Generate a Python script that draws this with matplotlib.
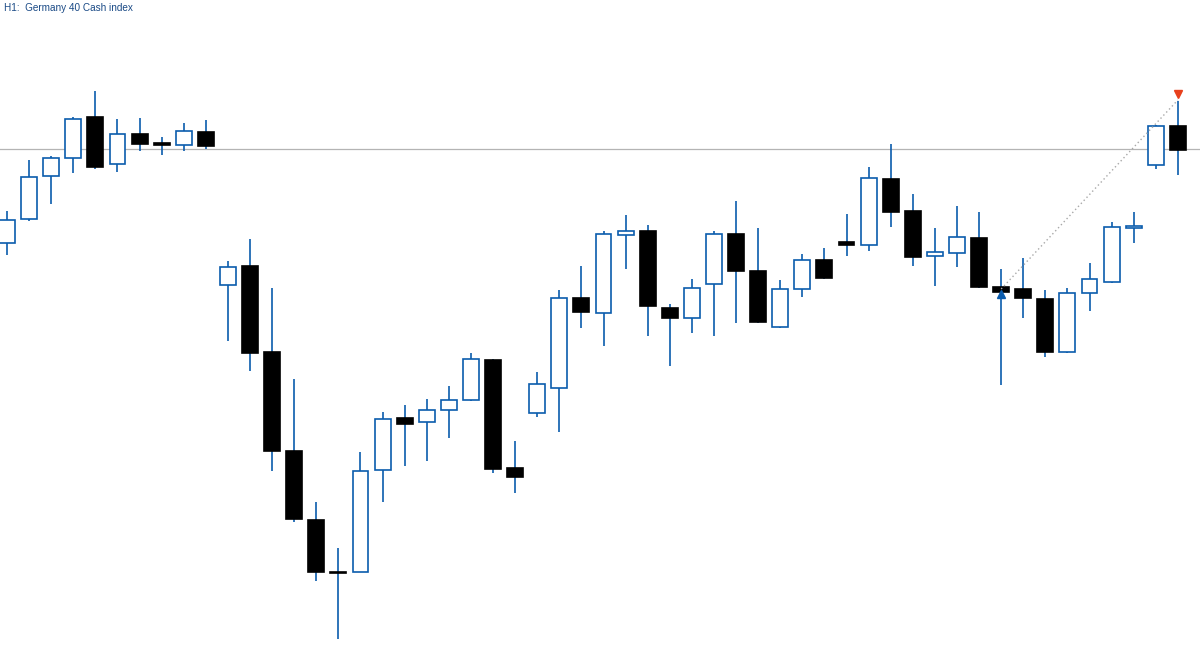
import numpy as np
import matplotlib.pyplot as plt

# H1 candles, oldest first
opens = [15703, 15715, 15736.5, 15745.5, 15766, 15742.5, 15757.5, 15753, 15752, 15758.5,
         15682, 15691.5, 15648.5, 15599, 15564.5, 15538.5, 15538.5, 15589.5, 15615.5, 15613.5,
         15619.5, 15624.5, 15644.5, 15590.5, 15618, 15630.5, 15675.5, 15668, 15707, 15709,
         15670.5, 15665.5, 15682.5, 15707.5, 15689, 15661, 15680, 15694.5, 15703.5, 15702,
         15735, 15719, 15696.5, 15698, 15705.5, 15681, 15680, 15675, 15648.5, 15678,
         15683.5, 15710.5, 15742, 15761.5]
highs = [15719, 15744.5, 15746.5, 15766, 15779, 15765, 15765.5, 15756, 15763, 15764.5,
         15694, 15705, 15680.5, 15635, 15573.5, 15550.5, 15598.5, 15618.5, 15622, 15625,
         15631.5, 15648, 15645, 15604, 15638.5, 15679.5, 15691.5, 15709, 15717, 15712,
         15672.5, 15685, 15709, 15724, 15710.5, 15684.5, 15697.5, 15700.5, 15717.5, 15741,
         15752.5, 15727.5, 15710.5, 15721.5, 15718.5, 15690, 15695.5, 15679.5, 15680.5, 15693,
         15713.5, 15718.5, 15762, 15774]
lows = [15697, 15714, 15722.5, 15738, 15740, 15738.5, 15749, 15747, 15749, 15750,
        15654, 15639, 15589, 15563.5, 15534, 15505, 15538.5, 15573.5, 15591.5, 15594,
        15605.5, 15624, 15588, 15578, 15616, 15608.5, 15660.5, 15651.5, 15690, 15656.5,
        15641.5, 15658, 15656.5, 15663, 15663, 15660.5, 15676, 15685, 15696.5, 15699,
        15711, 15691.5, 15681.5, 15691, 15680.5, 15632, 15665.5, 15646, 15648, 15669,
        15683, 15703, 15740, 15737]
closes = [15714.5, 15736, 15745.5, 15765, 15741, 15757.5, 15752.5, 15752, 15759, 15751.5,
          15691, 15648, 15599, 15565, 15538.5, 15538, 15589, 15615, 15612.5, 15619.5,
          15624.5, 15645, 15590, 15586, 15632.5, 15675.5, 15668.5, 15707.5, 15709, 15671.5,
          15665.5, 15680.5, 15707.5, 15689, 15663.5, 15680, 15694.5, 15685.5, 15702, 15735.5,
          15718.5, 15696, 15698.5, 15706, 15681, 15678.5, 15675.5, 15648.5, 15678, 15685,
          15711, 15711.5, 15761.5, 15749.5]

bid = 15750
trade_bars = [45, 53]
trade_prices = [15680, 15774.5]

title = "H1:  Germany 40 Cash index"

blue = "#0b5cad"
gray = "#b4b4b4"

fig = plt.figure(figsize=(12, 6.57), dpi=100)
ax = fig.add_axes([0, 0, 1, 1])

x = np.arange(len(opens))
o = np.array(opens)
c = np.array(closes)
h = np.array(highs)
l = np.array(lows)
up = c >= o

ax.vlines(x, l, h, color=blue, lw=1.2, zorder=1)

body_lo = np.minimum(o, c)
body_h = np.maximum(np.abs(c - o), 0.6)
ax.bar(x[up], body_h[up], bottom=body_lo[up], width=0.72,
       color="white", edgecolor=blue, linewidth=1.2, zorder=2)
ax.bar(x[~up], body_h[~up], bottom=body_lo[~up], width=0.72,
       color="black", edgecolor="black", linewidth=1.2, zorder=2)

ax.axhline(bid, color=gray, lw=0.9, zorder=0)

# trade line with entry/exit arrows
ax.plot(trade_bars, trade_prices, color="#a8a8a8", lw=1, ls=(0, (1, 2)), zorder=3)
ax.plot(trade_bars[0], trade_prices[0] - 2.5, marker="^", color=blue, ms=6, zorder=4)
ax.plot(trade_bars[1], trade_prices[1] + 3, marker="v", color="#e8401c", ms=6, zorder=4)

ax.set_xlim(-0.317, 54.0)
ax.set_ylim(15496, 15824.5)
ax.axis("off")

fig.text(0.003, 0.995, title, ha="left", va="top", fontsize=7.2,
         family="Liberation Sans", color="#1a4a86")

plt.savefig("out.png", dpi=100)
